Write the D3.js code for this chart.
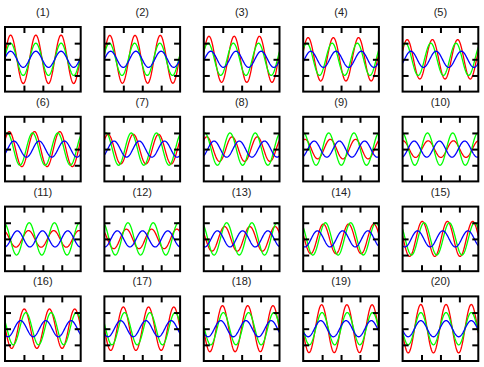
<!DOCTYPE html>
<html>
<head>
<meta charset="utf-8">
<script src="https://cdn.jsdelivr.net/npm/d3@7/dist/d3.min.js"></script>
<style>
  html, body { margin: 0; padding: 0; background: #fff; }
  svg { display: block; }
</style>
</head>
<body>
<script>
// ---- data ----
const panelLabels = ["(1)","(2)","(3)","(4)","(5)","(6)","(7)","(8)","(9)","(10)",
                     "(11)","(12)","(13)","(14)","(15)","(16)","(17)","(18)","(19)","(20)"];
// phase (degrees) of the green wave in each panel
const greenPhase = [10, 19, 29, 38, 48, 57, 67, 76, 86, 95,
                    105, 114, 124, 133, 143, 152, 162, 171, 181, 190];
// phase (degrees) of the blue wave in each panel
const bluePhase  = [10, 1, -9, -18, -28, -37, -47, -56, -66, -75,
                    -85, -94, -104, -113, -123, -132, -142, -151, -161, -170];
const greenAmp = 1.0;
const blueAmp = 0.5;
// red = green + blue
const xTicks = [0.75, 1.5, 2.25];
const yTicks = [-1, 0, 1];
const xDomain = [0, 3];       // three cycles across each panel
const yDomain = [-2, 2];

// ---- layout ----
const W = 484, H = 367;
const nCols = 5;
const panelW = 75.7, panelH = 64.6;
const left0 = 5, top0 = 27, stepX = 99.4, stepY = 89.8;

const svg = d3.select("body").append("svg").attr("width", W).attr("height", H);

const x = d3.scaleLinear().domain(xDomain).range([0, panelW]);
const y = d3.scaleLinear().domain(yDomain).range([panelH, 0]);

const nSamples = 160;
const ts = d3.range(nSamples + 1).map(i => xDomain[0] + (xDomain[1] - xDomain[0]) * i / nSamples);
const rad = d => d * Math.PI / 180;

const line = d3.line().x(d => x(d[0])).y(d => y(d[1]));

svg.append("defs").append("clipPath").attr("id", "clip")
  .append("rect").attr("x", 0).attr("y", 0).attr("width", panelW).attr("height", panelH);

panelLabels.forEach((label, i) => {
  const c = i % nCols, r = Math.floor(i / nCols);
  const g = svg.append("g").attr("transform", `translate(${left0 + c * stepX},${top0 + r * stepY})`);

  const gp = rad(greenPhase[i]), bp = rad(bluePhase[i]);
  const green = ts.map(t => [t, greenAmp * Math.sin(2 * Math.PI * t + gp)]);
  const blue  = ts.map(t => [t, blueAmp * Math.sin(2 * Math.PI * t + bp)]);
  const red   = ts.map((t, j) => [t, green[j][1] + blue[j][1]]);

  const plot = g.append("g").attr("clip-path", "url(#clip)");
  [[red, "#ff0000"], [green, "#00ff00"], [blue, "#0000ff"]].forEach(([data, col]) => {
    plot.append("path").datum(data).attr("d", line)
      .attr("fill", "none").attr("stroke", col).attr("stroke-width", 1.3)
      .attr("stroke-linejoin", "round");
  });

  const axes = [
    [d3.axisBottom(x), `translate(0,${panelH})`, xTicks],
    [d3.axisTop(x), `translate(0,0)`, xTicks],
    [d3.axisLeft(y), `translate(0,0)`, yTicks],
    [d3.axisRight(y), `translate(${panelW},0)`, yTicks]
  ];
  axes.forEach(([ax, tr, tv]) => {
    const a = g.append("g").attr("transform", tr)
      .call(ax.tickValues(tv).tickSizeInner(-6).tickSizeOuter(0).tickFormat(""));
    a.select(".domain").remove();
    a.selectAll("line").attr("stroke", "#000").attr("stroke-width", 2);
  });

  g.append("rect").attr("x", 0).attr("y", 0).attr("width", panelW).attr("height", panelH)
    .attr("fill", "none").attr("stroke", "#000").attr("stroke-width", 2);

  g.append("text").attr("x", panelW / 2).attr("y", -11)
    .attr("text-anchor", "middle")
    .attr("font-family", "Liberation Sans, Arial, sans-serif")
    .attr("font-size", 11).attr("fill", "#222")
    .text(label);
});
</script>
</body>
</html>
